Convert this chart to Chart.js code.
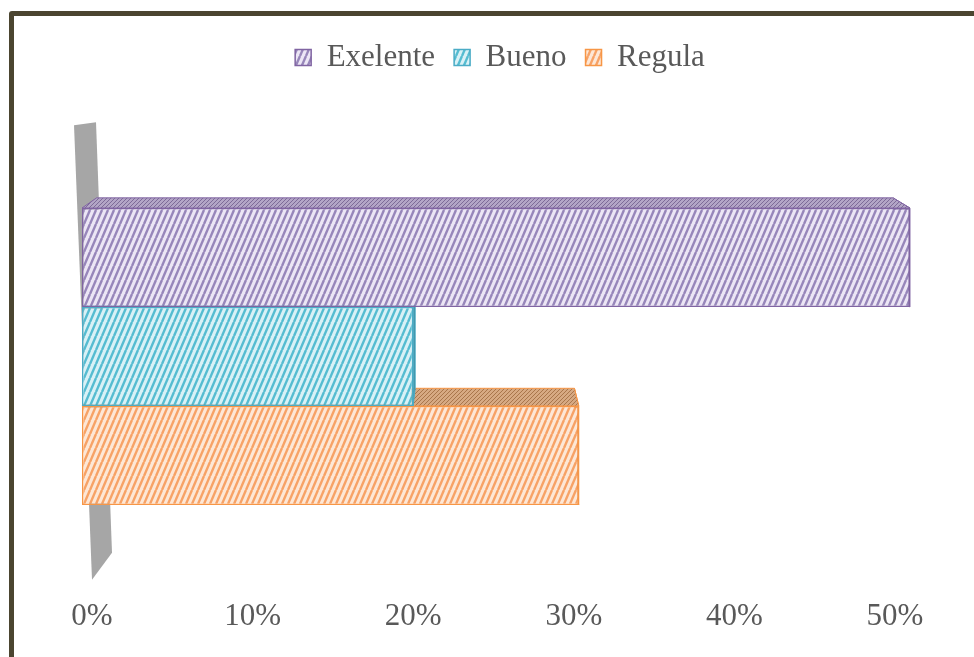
<!DOCTYPE html>
<html>
<head>
<meta charset="utf-8">
<script src="https://cdn.jsdelivr.net/npm/chart.js@4"></script>
<style>
    html, body { margin: 0; padding: 0; background: #fff; overflow: hidden; }
    #frame { position: absolute; left: 9px; top: 11px; width: 1000px; height: 700px; border: 5px solid #4b4530; border-radius: 3px; }
    #wrap { position: absolute; left: 0; top: 0; width: 974px; height: 657px; }
</style>
</head>
<body>
<div id="frame"></div>
<div id="wrap"><canvas id="chart"></canvas></div>
<script>
const categories = [''];
const seriesNames = ['Exelente', 'Bueno', 'Regula'];
const exelente = [50];
const bueno = [20];
const regula = [30];
const tickValues = [0, 10, 20, 30, 40, 50];

const FONT = "'Liberation Serif', 'Times New Roman', serif";
const ctx = document.getElementById('chart').getContext('2d');

// diagonal stripes, steep "///"
function stripes(bg, fg) {
    const c = document.createElement('canvas');
    const w = 6, h = 14;
    c.width = w; c.height = h;
    const g = c.getContext('2d');
    g.fillStyle = bg;
    g.fillRect(0, 0, w, h);
    g.strokeStyle = fg;
    g.lineWidth = 2.4;
    for (let k = -1; k <= 1; k++) {
        g.beginPath();
        g.moveTo(k * w, h);
        g.lineTo(k * w + w, 0);
        g.stroke();
    }
    return ctx.createPattern(c, 'repeat');
}

// small mesh for the top faces
function mesh(bg, fg) {
    const c = document.createElement('canvas');
    c.width = 4; c.height = 4;
    const g = c.getContext('2d');
    g.fillStyle = bg;
    g.fillRect(0, 0, 4, 4);
    g.fillStyle = fg;
    g.fillRect(0, 0, 1, 1);
    g.fillRect(2, 2, 1, 1);
    g.fillRect(1, 3, 1, 1);
    g.fillRect(3, 1, 1, 1);
    return ctx.createPattern(c, 'repeat');
}

const borderColors = ['#8064a2', '#4bacc6', '#f79646'];
const fills = [
    stripes('#ece6f5', '#9786ba'),
    stripes('#d9f1f6', '#55bcd1'),
    stripes('#fde7d6', '#f7a266')
];
const topFills = [
    mesh('#b3a5c6', '#7d6b98'),
    mesh('#86c8d7', '#3f97ad'),
    mesh('#d6a983', '#a9764c')
];
const sideColors = ['#7a6699', '#3f8fa3', '#d98440'];

function poly(g, pts) {
    g.beginPath();
    g.moveTo(pts[0][0], pts[0][1]);
    for (let i = 1; i < pts.length; i++) g.lineTo(pts[i][0], pts[i][1]);
    g.closePath();
}

const bar3d = {
    id: 'bar3d',
    beforeDatasetsDraw(chart) {
        const g = chart.ctx;
        const a = chart.chartArea;
        const x0 = chart.scales.x.getPixelForValue(0);
        g.save();

        // grey side wall
        g.fillStyle = '#a6a6a6';
        poly(g, [[x0 - 8, a.top - 5], [x0 + 14, a.top - 8], [x0 + 30, a.bottom - 30], [x0 + 10, a.bottom - 3]]);
        g.fill();

        const vx = a.left + (a.right - a.left) * 0.46;
        const vy = a.top - 190;
        const k = 0.962;
        const back = (x, y) => [vx + (x - vx) * k, vy + (y - vy) * k];

        g.lineWidth = 1;
        for (let i = chart.data.datasets.length - 1; i >= 0; i--) {
            const el = chart.getDatasetMeta(i).data[0];
            const p = el.getProps(['x', 'y', 'base', 'height'], true);
            const top = p.y - p.height / 2;
            const bot = p.y + p.height / 2;
            g.strokeStyle = borderColors[i];

            g.fillStyle = sideColors[i];
            poly(g, [[p.x, top], [p.x, bot], back(p.x, bot), back(p.x, top)]);
            g.fill();
            g.stroke();

            g.fillStyle = topFills[i];
            poly(g, [[p.base, top], [p.x, top], back(p.x, top), back(p.base, top)]);
            g.fill();
            g.stroke();
        }
        g.restore();
    }
};

const values = [exelente, bueno, regula];

new Chart(ctx, {
    type: 'bar',
    data: {
        labels: categories,
        datasets: seriesNames.map((name, i) => ({
            label: name,
            data: values[i],
            xAxisID: 'x',
            backgroundColor: fills[i],
            borderColor: borderColors[i],
            borderWidth: 1.5,
            borderSkipped: false,
            categoryPercentage: 0.656,
            barPercentage: 1
        }))
    },
    options: {
        indexAxis: 'y',
        responsive: true,
        maintainAspectRatio: false,
        animation: false,
        layout: { padding: { top: 23, left: 70, right: 44, bottom: 7 } },
        scales: {
            x: { type: 'linear', display: false, min: -0.725, max: 51.21 },
            xt: {
                type: 'linear',
                position: 'bottom',
                min: -1.37,
                max: 52.18,
                grid: { display: false, drawTicks: false },
                border: { display: false },
                afterBuildTicks: axis => { axis.ticks = tickValues.map(v => ({ value: v })); },
                ticks: {
                    padding: 15,
                    color: '#595959',
                    font: { family: FONT, size: 31 },
                    maxRotation: 0,
                    callback: v => v + '%'
                }
            },
            y: { display: false }
        },
        plugins: {
            legend: {
                position: 'top',
                labels: {
                    boxWidth: 16,
                    boxHeight: 16,
                    padding: 19,
                    color: '#595959',
                    font: { family: FONT, size: 31 }
                }
            },
            subtitle: {
                display: true,
                text: ' ',
                weight: 500,
                font: { size: 1 },
                padding: { top: 46, bottom: 0 }
            },
            tooltip: { enabled: false }
        }
    },
    plugins: [bar3d]
});
</script>
</body>
</html>
